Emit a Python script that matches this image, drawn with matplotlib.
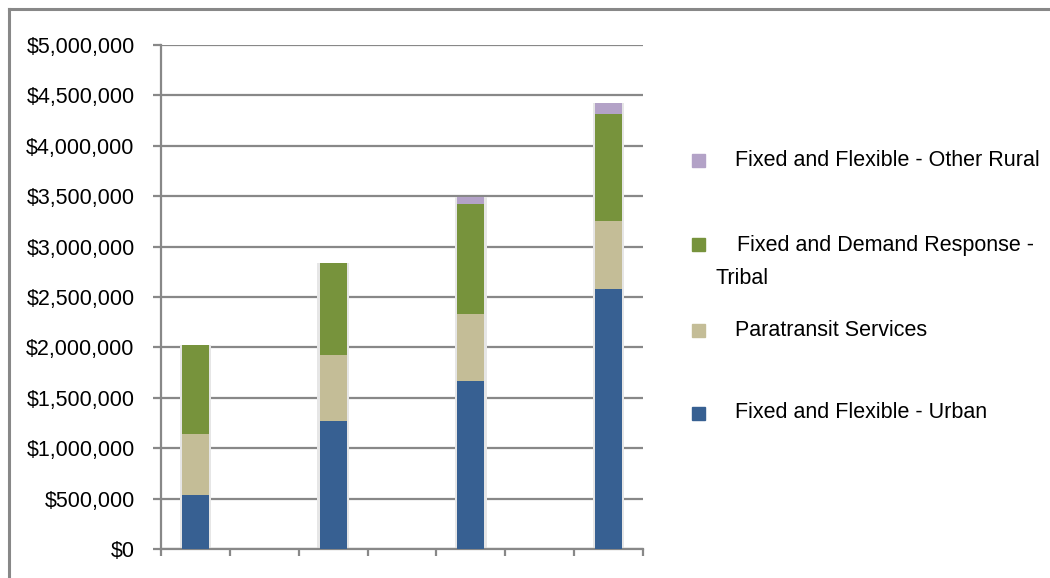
import numpy as np
import matplotlib
matplotlib.use("Agg")
import matplotlib.pyplot as plt
from matplotlib.patches import Rectangle
from matplotlib.lines import Line2D
from matplotlib.ticker import FuncFormatter

plt.rcParams['font.family'] = ['Liberation Sans', 'DejaVu Sans']

# bar slots (every other slot of 7 is empty)
positions = [0, 2, 4, 6]
urban = [540000, 1270000, 1670000, 2580000]
paratransit = [600000, 650000, 660000, 670000]
tribal = [880000, 920000, 1090000, 1070000]
other_rural = [0, 0, 70000, 100000]

series = [urban, paratransit, tribal, other_rural]
labels = ["Fixed and Flexible - Urban", "Paratransit Services",
          "Fixed and Demand Response -\nTribal", "Fixed and Flexible - Other Rural"]
colors = ['#376092', '#C4BD97', '#77933C', '#B3A2C7']

grid_col = '#888888'

fig = plt.figure(figsize=(10.5, 5.78), dpi=100)
ax = fig.add_axes([161/1050, 29/578, (643-161)/1050, (549-45)/578])

# soft shadow behind each bar
totals = np.sum(series, axis=0)
ax.bar(positions, totals, width=0.46, color='#e6e6e6', zorder=2, linewidth=0)

bottom = np.zeros(len(positions))
for vals, col in zip(series, colors):
    ax.bar(positions, vals, width=0.39, bottom=bottom, color=col, zorder=3, linewidth=0)
    bottom += np.array(vals)

ax.set_xlim(-0.5, 6.5)
ax.set_ylim(0, 5000000)
ax.set_yticks(np.arange(0, 5000001, 500000))
ax.yaxis.set_major_formatter(FuncFormatter(lambda v, p: "${:,.0f}".format(v)))
ax.set_xticks(np.arange(-0.5, 6.6, 1))
ax.set_xticklabels([])

ax.grid(axis='y', color=grid_col, linewidth=1.6)
ax.set_axisbelow(True)
for s in ['top', 'right']:
    ax.spines[s].set_visible(False)
for s in ['left', 'bottom']:
    ax.spines[s].set_color(grid_col)
    ax.spines[s].set_linewidth(1.6)
ax.tick_params(axis='y', length=6, width=1.6, color=grid_col, pad=13, labelsize=15.5)
ax.tick_params(axis='x', length=5, width=1.6, color=grid_col)

# manual legend, top to bottom
leg_items = [
    (3, 160, [("Fixed and Flexible - Other Rural", 735, 161)]),
    (2, 244, [("Fixed and Demand Response -", 737, 246), ("Tribal", 716, 278)]),
    (1, 330, [("Paratransit Services", 735, 330)]),
    (0, 413, [("Fixed and Flexible - Urban", 735, 413)]),
]
for idx, ypx, texts in leg_items:
    fig.patches.append(Rectangle((692/1050, (578-ypx-6.5)/578), 13/1050, 13/578,
                                 transform=fig.transFigure, color=colors[idx]))
    for t, xpx, typx in texts:
        fig.text(xpx/1050, (578-typx)/578, t, fontsize=15.5, va='center', ha='left')

# outer frame (top and left edges visible)
fig.add_artist(Line2D([9/1050, 1.0], [1-9/578, 1-9/578], color=grid_col, lw=2.2,
                      transform=fig.transFigure))
fig.add_artist(Line2D([9/1050, 9/1050], [0, 1-9/578], color=grid_col, lw=2.2,
                      transform=fig.transFigure))

fig.savefig("out.png", dpi=100)
